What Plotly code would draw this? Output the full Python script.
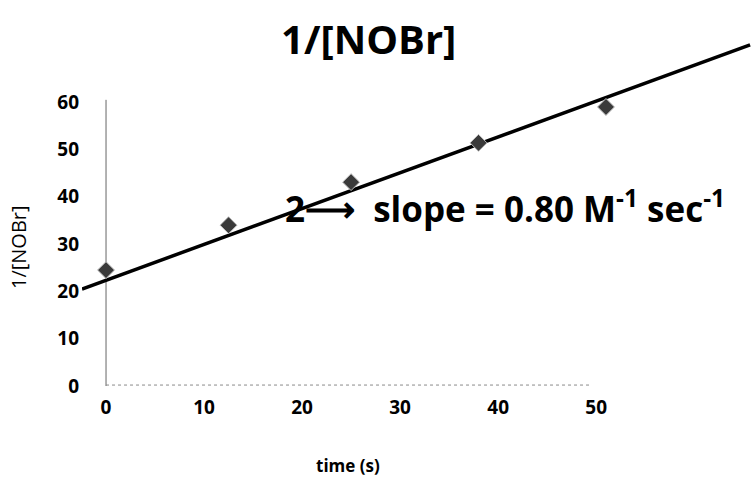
import plotly.graph_objects as go

# Data
time_s = [0, 12.5, 25, 38, 51]
inv_nobr = [24.5, 34.0, 43.1, 51.4, 59.0]

# Hand-drawn best-fit line (end points)
fit_time = [-2.45, 65.7]
fit_value = [20.5, 72.1]

x_ticks = [0, 10, 20, 30, 40, 50]
y_ticks = [0, 10, 20, 30, 40, 50, 60]

FONT = "Open Sans"

fig = go.Figure()

fig.add_trace(go.Scatter(
    x=fit_time, y=fit_value, mode="lines",
    line=dict(color="#000000", width=3.5),
    showlegend=False, hoverinfo="skip",
))
fig.add_trace(go.Scatter(
    x=time_s, y=inv_nobr, mode="markers",
    marker=dict(symbol="diamond", size=13, color="#3a3a3a",
                line=dict(color="#bbbbbb", width=1)),
    showlegend=False, cliponaxis=False,
))

# axis lines (Excel-style, faint)
fig.add_shape(type="line", xref="x", yref="y", x0=0, x1=0, y0=0, y1=60.5,
              line=dict(color="#666666", width=1), layer="below")
fig.add_shape(type="line", xref="x", yref="y", x0=0, x1=49.5, y0=0.2, y1=0.2,
              line=dict(color="#8a8a8a", width=1, dash="dot"), layer="below")

fig.update_layout(
    width=754, height=485,
    margin=dict(l=82, r=0, t=40, b=99),
    paper_bgcolor="white", plot_bgcolor="white",
    font=dict(family=FONT, color="#000000"),
    title=dict(text="<b>1/[NOBr]</b>", x=0.489, xref="container", xanchor="center",
               y=0.918, yref="container", yanchor="middle",
               font=dict(family=FONT, size=40, color="#000000")),
    xaxis=dict(range=[-2.45, 66.1], tickvals=x_ticks,
               ticktext=[f"<b>{v}</b>" for v in x_ticks],
               showgrid=False, zeroline=False, showline=False, ticks="",
               ticklabelstandoff=8, tickfont=dict(size=19, family=FONT)),
    yaxis=dict(range=[0, 73.15], tickvals=y_ticks,
               ticktext=[f"<b>{v}</b>" for v in y_ticks],
               showgrid=False, zeroline=False, showline=False, ticks="",
               ticklabelstandoff=2, tickfont=dict(size=19, family=FONT)),
    annotations=[
        dict(text="<b>time (s)</b>", xref="paper", yref="paper",
             x=(348 - 82) / 672, y=(386 - 466) / 346, xanchor="center", yanchor="middle",
             showarrow=False, font=dict(size=17, family=FONT)),
        dict(text="1/[NOBr]", xref="paper", yref="paper", textangle=-90,
             x=(18 - 82) / 672, y=(386 - 247) / 346, xanchor="center", yanchor="middle",
             showarrow=False, font=dict(size=20, family=FONT)),
        dict(text="<b>2⟶  slope = 0.80 M<sup>-1</sup> sec<sup>-1</sup></b>",
             xref="paper", yref="paper",
             x=(283 - 82) / 672, y=(386 - 207) / 346, xanchor="left", yanchor="middle",
             showarrow=False, font=dict(size=35, family=FONT)),
    ],
)

fig.write_html(
    "out.html",
    config={"displayModeBar": False},
    post_script="document.body.style.margin='0px';document.body.style.overflow='hidden';",
)
